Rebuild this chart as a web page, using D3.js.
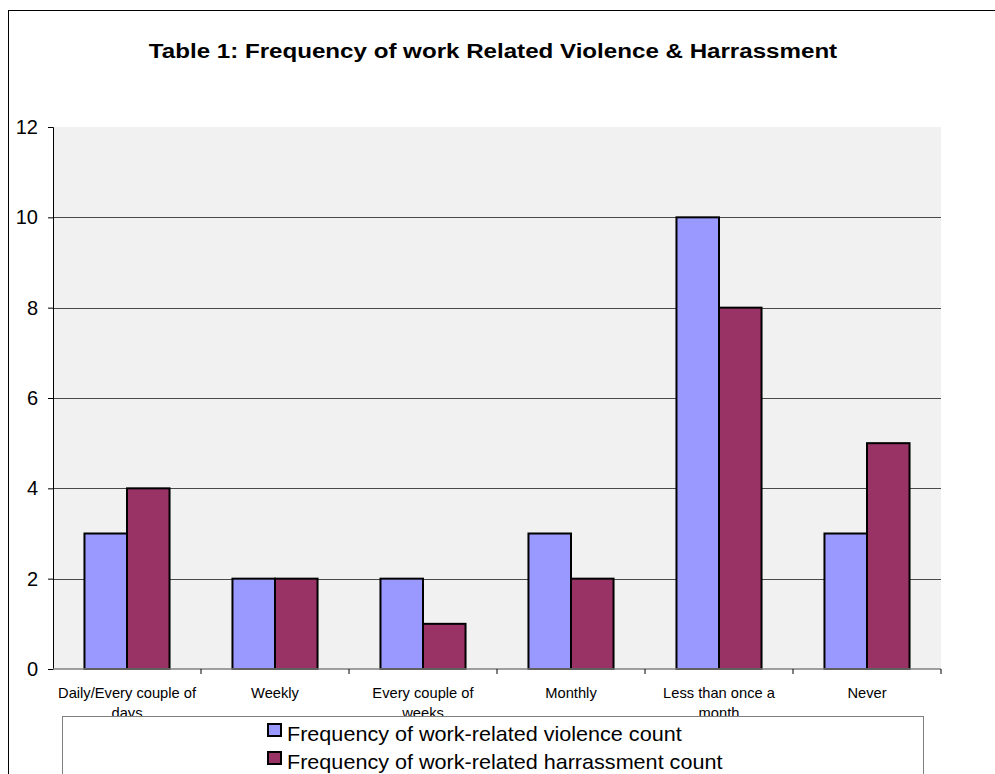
<!DOCTYPE html>
<html>
<head>
<meta charset="utf-8">
<script src="https://cdn.jsdelivr.net/npm/d3@7"></script>
<style>
  body { margin: 0; background: #fff; }
  svg { display: block; font-family: Arial, "Liberation Sans", sans-serif; }
</style>
</head>
<body>
<div class="chart"></div>
<script>
// DATA
const CATEGORIES = ["Daily/Every couple of days", "Weekly", "Every couple of weeks",
                    "Monthly", "Less than once a month", "Never"];
const VIOLENCE = [3, 2, 2, 3, 10, 3];
const HARASSMENT = [4, 2, 1, 2, 8, 5];
const SERIES_NAMES = ["Frequency of work-related violence count",
                      "Frequency of work-related harrassment count"];
const Y_TICKS = [0, 2, 4, 6, 8, 10, 12];

// GLOBAL CONSTANTS
const FRAME_WIDTH = 995;
const FRAME_HEIGHT = 774;
const MARGINS = {left: 53, right: 54, top: 127, bottom: 105};
const GRAPH_WIDTH = FRAME_WIDTH - MARGINS.left - MARGINS.right;
const GRAPH_HEIGHT = FRAME_HEIGHT - MARGINS.top - MARGINS.bottom;
const COLORS = ["#9999FF", "#993366"];

const FRAME = d3.select(".chart")
  .append("svg")
    .attr("width", FRAME_WIDTH)
    .attr("height", FRAME_HEIGHT);

// outer chart border (runs off the right and bottom)
FRAME.append("rect")
  .attr("x", 8.5).attr("y", 10.5)
  .attr("width", 1000).attr("height", 800)
  .attr("fill", "#fff")
  .attr("stroke", "#000")
  .attr("stroke-width", 1);

// title (original text is a bit wider than plain Arial)
FRAME.append("text")
  .attr("transform", "translate(493,58) scale(1.15,1)")
  .attr("text-anchor", "middle")
  .attr("font-size", "21px")
  .attr("font-weight", "bold")
  .text("Table 1: Frequency of work Related Violence & Harrassment");

const G = FRAME.append("g")
  .attr("transform", "translate(" + MARGINS.left + "," + MARGINS.top + ")");

const Y_SCALE = d3.scaleLinear().domain([0, 12]).range([GRAPH_HEIGHT, 0]);
const X_SCALE = d3.scaleBand().domain(CATEGORIES).range([0, GRAPH_WIDTH]).paddingInner(0).paddingOuter(0);
const X_SUB = d3.scaleBand().domain([0, 1]).range([0, X_SCALE.bandwidth()]).paddingOuter(0.74).paddingInner(0);

// plot area background
G.append("rect")
  .attr("width", GRAPH_WIDTH).attr("height", GRAPH_HEIGHT)
  .attr("fill", "#f1f1f1");

// gridlines
G.selectAll(".grid")
  .data(Y_TICKS.filter(d => d > 0 && d < 12))
  .enter()
  .append("line")
    .attr("x1", 0).attr("x2", GRAPH_WIDTH)
    .attr("y1", d => Math.round(Y_SCALE(d)) + 0.5)
    .attr("y2", d => Math.round(Y_SCALE(d)) + 0.5)
    .attr("stroke", "#4a4a4a")
    .attr("stroke-width", 1.2);

// bars
const data = CATEGORIES.map((c, i) => ({category: c, values: [VIOLENCE[i], HARASSMENT[i]]}));
const groups = G.selectAll(".grp")
  .data(data)
  .enter()
  .append("g")
    .attr("transform", d => "translate(" + X_SCALE(d.category) + ",0)");

groups.selectAll("rect")
  .data(d => d.values.map((v, k) => ({k: k, v: v})))
  .enter()
  .append("rect")
    .attr("x", d => X_SUB(d.k))
    .attr("y", d => Y_SCALE(d.v))
    .attr("width", X_SUB.bandwidth())
    .attr("height", d => GRAPH_HEIGHT - Y_SCALE(d.v))
    .attr("fill", d => COLORS[d.k])
    .attr("stroke", "#000")
    .attr("stroke-width", 2);

// Y AXIS
const yAxis = G.append("g")
  .call(d3.axisLeft(Y_SCALE).tickValues(Y_TICKS).tickSize(5).tickPadding(10));
yAxis.select(".domain").attr("stroke", "#000");
yAxis.selectAll("text").attr("font-size", "20px").attr("fill", "#000")
  .attr("font-family", "Arial, 'Liberation Sans', sans-serif");

// X AXIS (ticks at category boundaries)
const xAxis = G.append("g")
  .attr("transform", "translate(0," + GRAPH_HEIGHT + ")");
xAxis.append("line")
  .attr("x1", 0).attr("x2", GRAPH_WIDTH)
  .attr("stroke", "#808080").attr("stroke-width", 1.5);
xAxis.selectAll(".xt")
  .data(CATEGORIES)
  .enter()
  .append("line")
    .attr("x1", d => X_SCALE(d) + X_SCALE.bandwidth())
    .attr("x2", d => X_SCALE(d) + X_SCALE.bandwidth())
    .attr("y1", 0).attr("y2", 5)
    .attr("stroke", "#000");

// wrapped category labels
const WRAP = {"Daily/Every couple of days": ["Daily/Every couple of", "days"],
              "Every couple of weeks": ["Every couple of", "weeks"],
              "Less than once a month": ["Less than once a", "month"]};
xAxis.selectAll(".xl")
  .data(CATEGORIES)
  .enter()
  .append("text")
    .attr("transform", d => "translate(" + (X_SCALE(d) + X_SCALE.bandwidth() / 2) + ",29) scale(1.05,1)")
    .attr("text-anchor", "middle")
    .attr("font-size", "14px")
    .attr("fill", "#000")
    .each(function(d) {
      const lines = WRAP[d] || [d];
      d3.select(this).selectAll("tspan")
        .data(lines)
        .enter()
        .append("tspan")
          .attr("x", 0)
          .attr("dy", (l, i) => i === 0 ? 0 : 20)
          .text(l => l);
    });

// LEGEND
FRAME.append("rect")
  .attr("x", 62.5).attr("y", 716.5)
  .attr("width", 861).attr("height", 100)
  .attr("fill", "#fff")
  .attr("stroke", "#808080")
  .attr("stroke-width", 1);

const legend = FRAME.selectAll(".leg")
  .data(SERIES_NAMES)
  .enter()
  .append("g")
    .attr("transform", (d, i) => "translate(268," + (724 + i * 28) + ")");
legend.append("rect")
  .attr("width", 13).attr("height", 12)
  .attr("fill", (d, i) => COLORS[i])
  .attr("stroke", "#000")
  .attr("stroke-width", 2);
legend.append("text")
  .attr("transform", "translate(19,17) scale(1.08,1)")
  .attr("font-size", "20px")
  .attr("fill", "#000")
  .text(d => d);
</script>
</body>
</html>
